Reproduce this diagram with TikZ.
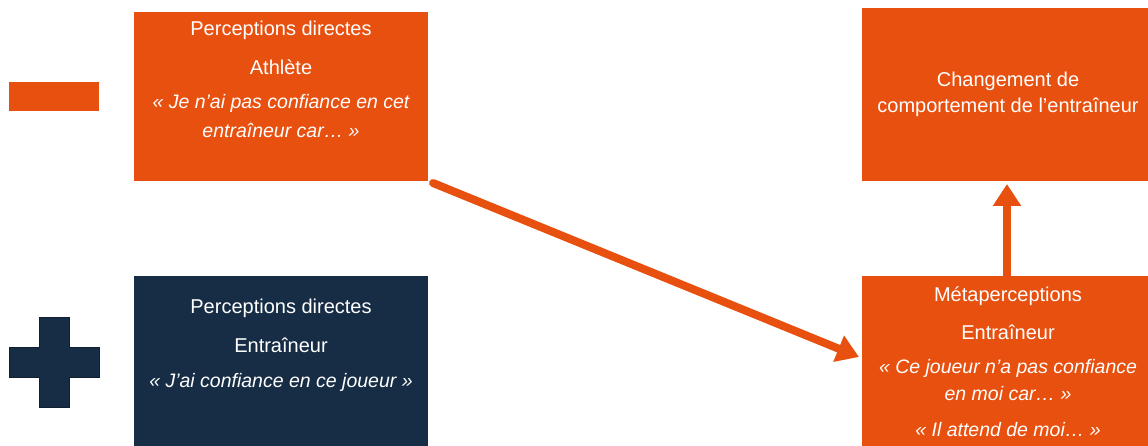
\documentclass[tikz,border=0pt]{standalone}
\usepackage{fontspec}
\setmainfont{Liberation Sans}
\usetikzlibrary{arrows.meta}
\definecolor{orng}{HTML}{E8500F}
\definecolor{navy}{HTML}{172D45}
\tikzset{
  box/.style={fill=#1, draw=none, anchor=north west, inner sep=0pt},
  txt/.style={text=white, font=\fontsize{20}{24}\selectfont, inner sep=0pt, anchor=center},
  itx/.style={txt, font=\fontsize{19.5}{24}\selectfont\itshape},
  conn/.style={draw=orng, line width=8pt, line cap=round, -{Triangle[length=22pt,width=27pt]}},
}
\begin{document}
\begin{tikzpicture}[x=1pt,y=-1pt]
\useasboundingbox (0,0) rectangle (1148,446);
% boxes
\node[box=orng, minimum width=294pt, minimum height=169pt] (tl) at (134,12) {};
\node[box=navy, minimum width=294pt, minimum height=170pt] (bl) at (134,276) {};
\node[box=orng, minimum width=286pt, minimum height=173pt] (tr) at (862,8) {};
\node[box=orng, minimum width=286pt, minimum height=170pt] (br) at (862,276) {};
% minus and plus
\node[box=orng, minimum width=90pt, minimum height=29pt] (minus) at (9,82) {};
\fill[navy, draw=navy!70!black, line width=0.8pt]
  (39,317) -- (69,317) -- (69,347) -- (99,347) -- (99,377) -- (69,377) -- (69,407)
  -- (39,407) -- (39,377) -- (9,377) -- (9,347) -- (39,347) -- cycle;
% texts
\node[txt] (tl1) at (281,30) {Perceptions directes};
\node[txt] (tl2) at (281,67) {Athlète};
\node[itx] (tl3) at (281,103) {« Je n’ai pas confiance en cet};
\node[itx] (tl4) at (281,130) {entraîneur car… »};
\node[txt] (bl1) at (281,308) {Perceptions directes};
\node[txt] (bl2) at (281,345) {Entraîneur};
\node[itx] (bl3) at (281,382) {« J’ai confiance en ce joueur »};
\node[txt] (tr1) at (1008,81) {Changement de};
\node[txt] (tr2) at (1008,107) {comportement de l’entraîneur};
\node[txt] (br1) at (1008,296) {Métaperceptions};
\node[txt] (br2) at (1008,332) {Entraîneur};
\node[itx] (br3) at (1008,368) {« Ce joueur n’a pas confiance};
\node[itx] (br4) at (1008,394) {en moi car… »};
\node[itx] (br5) at (1008,430) {« Il attend de moi… »};
% connectors
\coordinate (a1s) at (433,183);
\coordinate (a1e) at (859,357);
\draw[conn] (a1s) -- (a1e);
\coordinate (a2s) at (1007,276);
\draw[conn, line cap=butt] (a2s) -- (1007,184);
\end{tikzpicture}
\end{document}
